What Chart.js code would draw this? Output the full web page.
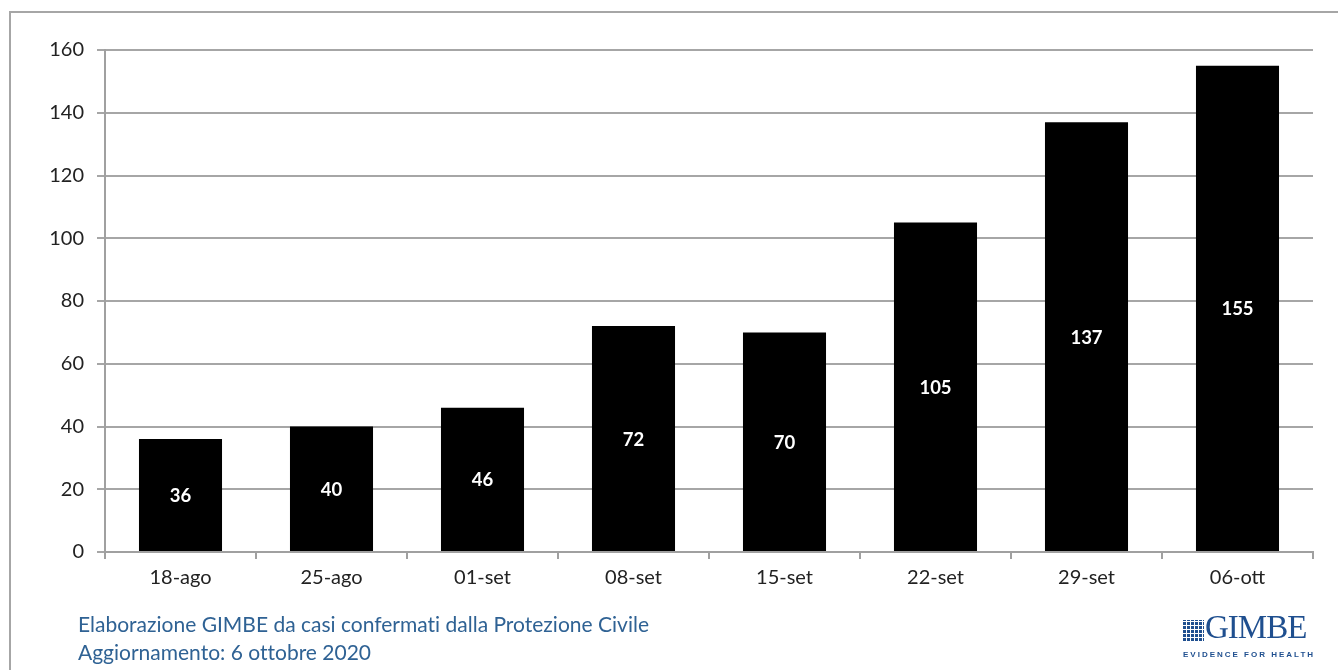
<!DOCTYPE html>
<html>
<head>
<meta charset="utf-8">
<script src="https://cdn.jsdelivr.net/npm/chart.js@4/dist/chart.umd.min.js"></script>
<style>
  html, body { margin: 0; padding: 0; background: #fff; }
  #wrap { position: relative; width: 1338px; height: 670px; overflow: hidden; }
  #frame { position: absolute; left: 9px; top: 11px; width: 1400px; height: 700px;
           border: 2px solid #a6a6a6; box-sizing: border-box; }
  canvas { position: absolute; left: 0; top: 0; }
  .note { position: absolute; left: 78px; font-family: Lato, "Open Sans", sans-serif;
          font-size: 21px; color: #2f6294; white-space: nowrap; font-variant-ligatures: none; }
  #logo { position: absolute; left: 1182px; top: 616px; color: #1f4f8f; }
  #logo .name { position: absolute; left: 23px; top: -7px; font-family: "Liberation Serif", serif;
                font-size: 33px; letter-spacing: -1px; }
  #logo .tag { position: absolute; left: 1px; top: 34px; font-family: "Liberation Sans", sans-serif;
               font-size: 8px; letter-spacing: 2px; white-space: nowrap; font-weight: bold; }
  #logo .icon { position: absolute; left: 1px; top: 4px; width: 21px; height: 21px;
                background:
                  repeating-linear-gradient(90deg, #1f4f8f 0 3px, #fff 3px 4px),
                  #1f4f8f; }
  #logo .icon::after { content: ""; position: absolute; left: 0; top: 0; right: 0; bottom: 0;
                background: repeating-linear-gradient(0deg, transparent 0 3px, #fff 3px 4px); }
</style>
</head>
<body>
<div id="wrap">
  <div id="frame"></div>
  <canvas id="c" width="1338" height="670"></canvas>
  <div class="note" style="top:611px">Elaborazione GIMBE da casi confermati dalla Protezione Civile</div>
  <div class="note" style="top:639px">Aggiornamento: 6 ottobre 2020</div>
  <div id="logo">
    <div class="icon"></div>
    <div class="name">GIMBE</div>
    <div class="tag">EVIDENCE FOR HEALTH</div>
  </div>
</div>
<script>
// Weekly confirmed cases
const categories = ['18-ago', '25-ago', '01-set', '08-set', '15-set', '22-set', '29-set', '06-ott'];
const cases = [36, 40, 46, 72, 70, 105, 137, 155];
const yTicks = [0, 20, 40, 60, 80, 100, 120, 140, 160];

const FONT = 'Lato, "Open Sans", sans-serif';

// Value labels centred inside each bar
const barValueLabels = {
  id: 'barValueLabels',
  afterDatasetsDraw(chart) {
    const ctx = chart.ctx;
    const meta = chart.getDatasetMeta(0);
    const ds = chart.data.datasets[0];
    ctx.save();
    ctx.fillStyle = '#ffffff';
    ctx.font = 'bold 18.5px ' + FONT;
    ctx.textAlign = 'center';
    ctx.textBaseline = 'middle';
    meta.data.forEach((bar, i) => {
      const p = bar.getProps(['x', 'y', 'base'], true);
      ctx.fillText(String(ds.data[i]), p.x, (p.y + p.base) / 2 + 1);
    });
    ctx.restore();
  }
};

new Chart(document.getElementById('c'), {
  type: 'bar',
  data: {
    labels: categories,
    datasets: [{
      data: cases,
      backgroundColor: '#000000',
      borderColor: '#000000',
      borderWidth: 0,
      categoryPercentage: 1,
      barPercentage: 0.55
    }]
  },
  options: {
    responsive: false,
    animation: false,
    events: [],
    layout: { padding: { left: 0, top: 50, right: 25, bottom: 68 } },
    plugins: { legend: { display: false }, tooltip: { enabled: false } },
    scales: {
      x: {
        afterFit(s) { s.height = 50; },
        grid: { display: true, offset: true, drawOnChartArea: false, drawTicks: true,
                tickLength: 7, color: '#a0a0a0', lineWidth: 2 },
        border: { display: true, color: '#a0a0a0', width: 2 },
        ticks: { color: '#222', font: { family: FONT, size: 20 }, padding: 7 }
      },
      y: {
        min: 0, max: 160,
        afterFit(s) { s.width = 105; },
        afterBuildTicks(s) { s.ticks = yTicks.map(v => ({ value: v })); },
        grid: { color: '#a6a6a6', lineWidth: 2, drawTicks: true, tickLength: 8 },
        border: { display: true, color: '#a0a0a0', width: 2 },
        ticks: { color: '#222', font: { family: FONT, size: 20 }, padding: 13 }
      }
    }
  },
  plugins: [barValueLabels]
});
</script>
</body>
</html>
